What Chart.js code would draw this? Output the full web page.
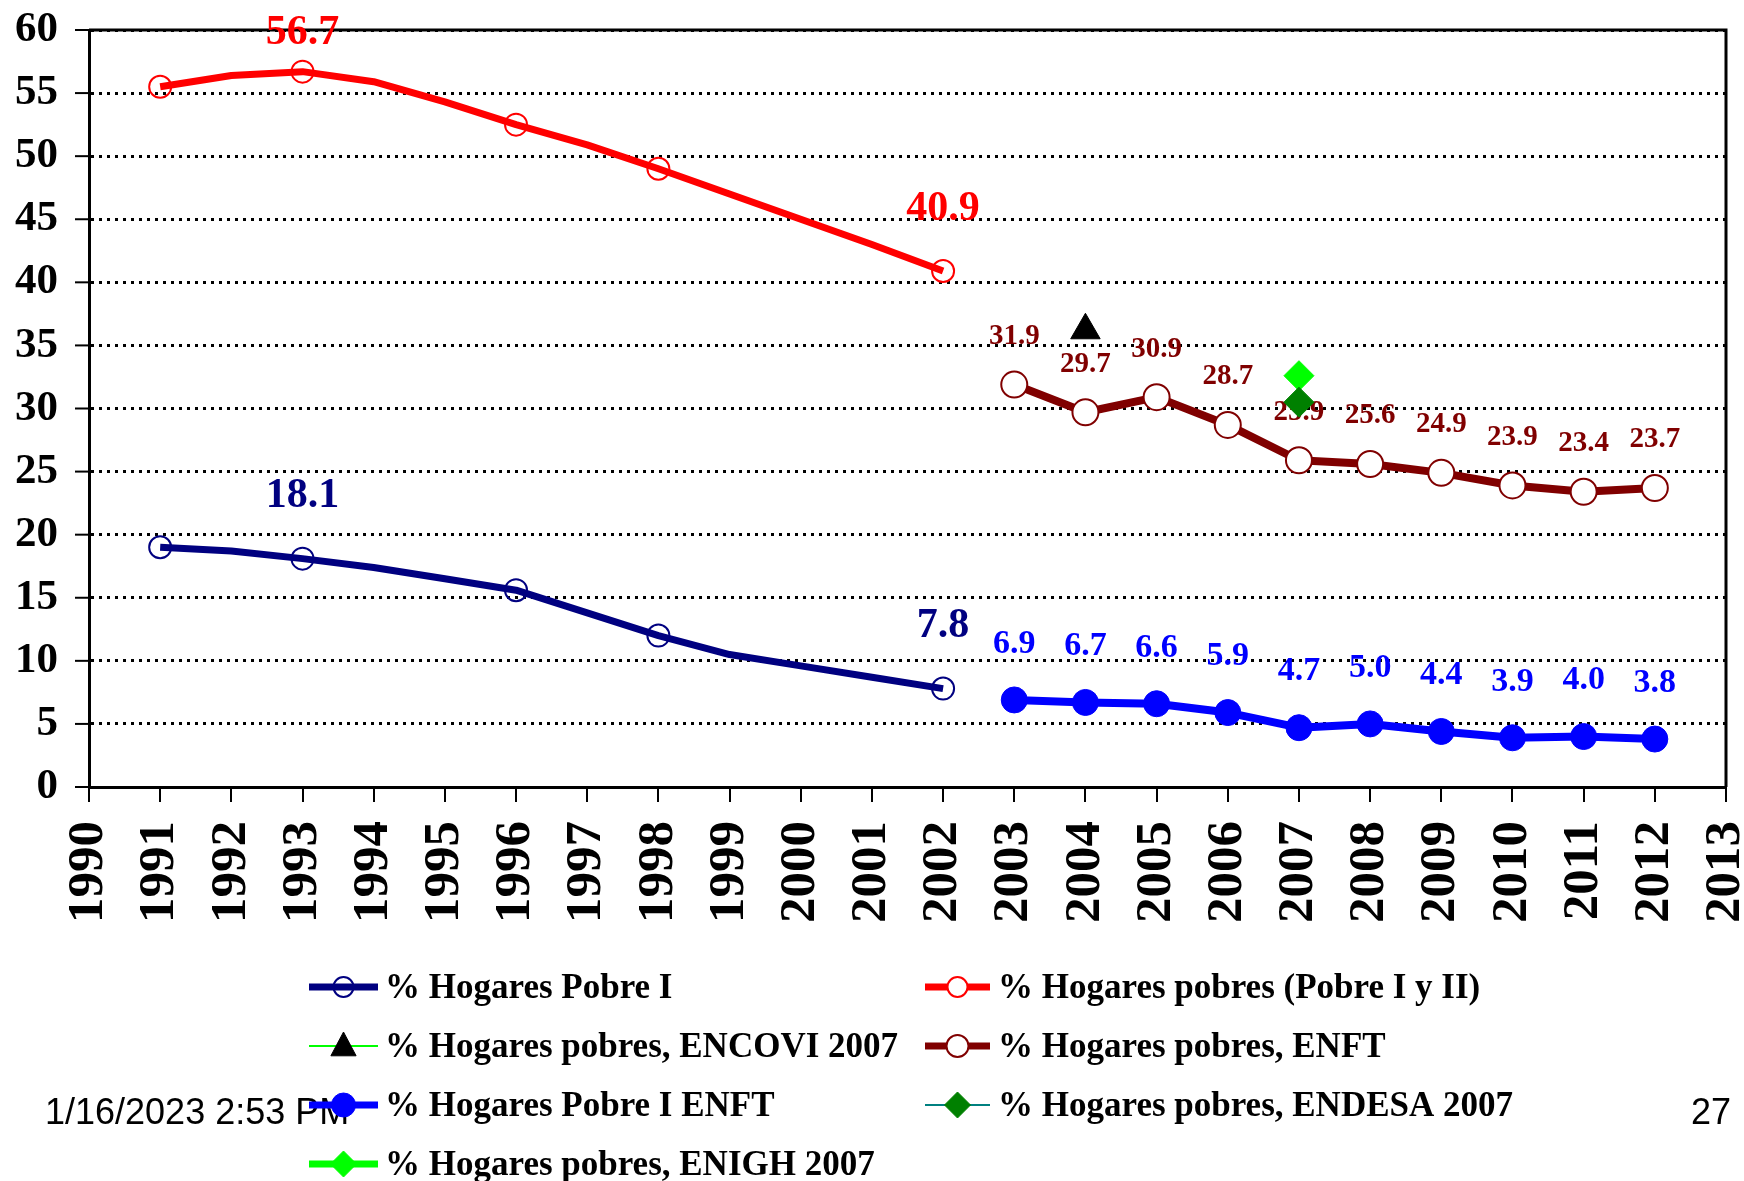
<!DOCTYPE html>
<html>
<head>
<meta charset="utf-8">
<script src="https://cdn.jsdelivr.net/npm/chart.js@4.4.1/dist/chart.umd.min.js"></script>
<style>
  html, body { margin: 0; padding: 0; background: #fff; }
  #wrap { width: 1744px; height: 1181px; }
</style>
</head>
<body>
<div id="wrap"><canvas id="chart" width="1744" height="1181"></canvas></div>
<script>
// --- data ---
const yearsEarly = [1991, 1992, 1993, 1994, 1995, 1996, 1997, 1998, 1999, 2000, 2001, 2002];
const pobreIyII   = [55.5, 56.4, 56.7, 55.9, 54.3, 52.5, 50.9, 49.0, 47.0, 45.0, 43.0, 40.9];
const pobreI      = [19.0, 18.7, 18.1, 17.4, 16.5, 15.6, 13.8, 12.0, 10.5, 9.6, 8.7, 7.8];
const markerYearsEarly = [1991, 1993, 1996, 1998, 2002];
const labelYearsEarly = [1993, 2002];

const yearsEnft  = [2003, 2004, 2005, 2006, 2007, 2008, 2009, 2010, 2011, 2012];
const enft       = [31.9, 29.7, 30.9, 28.7, 25.9, 25.6, 24.9, 23.9, 23.4, 23.7];
const pobreIEnft = [6.9, 6.7, 6.6, 5.9, 4.7, 5.0, 4.4, 3.9, 4.0, 3.8];

const yearsEncovi = [2004];
const encovi      = [36.2];
const yearsEndesa = [2007];
const endesa      = [30.5];
const yearsEnigh  = [2007];
const enigh       = [32.6];

const yTicks = [0, 5, 10, 15, 20, 25, 30, 35, 40, 45, 50, 55, 60];
const xMin = 1990, xMax = 2013;

const SERIF = "'Liberation Serif', 'Times New Roman', serif";

function pts(xs, ys) {
    return xs.map((x, i) => ({ x: x, y: ys[i] }));
}

// --- labels above points ---
const valueLabels = {
    id: 'valueLabels',
    beforeDatasetsDraw(chart) {
        const ctx = chart.ctx;
        chart.data.datasets.forEach((ds, i) => {
            const vl = ds.valueLabel;
            if (!vl) return;
            const meta = chart.getDatasetMeta(i);
            ctx.save();
            ctx.font = 'bold ' + vl.size + 'px ' + SERIF;
            ctx.fillStyle = vl.color;
            ctx.textAlign = 'center';
            ctx.textBaseline = 'middle';
            ds.data.forEach((p, j) => {
                if (vl.years && !vl.years.includes(p.x)) return;
                const el = meta.data[j];
                const off = (vl.offsetAt && vl.offsetAt[p.x]) || vl.offset;
                ctx.fillText(p.y.toFixed(1), el.x, el.y - off);
            });
            ctx.restore();
        });
    }
};

// --- frame, y tick marks ---
const frame = {
    id: 'frame',
    beforeDatasetsDraw(chart) {
        const { ctx, chartArea: a } = chart;
        const ys = chart.scales.y;
        ctx.save();
        ctx.strokeStyle = '#000';
        ctx.lineWidth = 3;
        ctx.beginPath();
        ctx.moveTo(a.left, a.top);
        ctx.lineTo(a.right, a.top);
        ctx.lineTo(a.right, a.bottom);
        ctx.stroke();
        ctx.lineWidth = 2;
        ys.ticks.forEach(t => {
            const py = ys.getPixelForValue(t.value);
            ctx.beginPath();
            ctx.moveTo(a.left - 14, py);
            ctx.lineTo(a.left, py);
            ctx.stroke();
        });
        ctx.restore();
    }
};

function drawMarker(ctx, style, r, x, y, fill, stroke, bw) {
    ctx.save();
    ctx.beginPath();
    if (style === 'circle') {
        ctx.arc(x, y, r, 0, Math.PI * 2);
    } else if (style === 'triangle') {
        ctx.moveTo(x, y - r);
        ctx.lineTo(x + r * 0.9, y + r * 0.7);
        ctx.lineTo(x - r * 0.9, y + r * 0.7);
        ctx.closePath();
    } else if (style === 'rectRot') {
        ctx.moveTo(x, y - r);
        ctx.lineTo(x + r, y);
        ctx.lineTo(x, y + r);
        ctx.lineTo(x - r, y);
        ctx.closePath();
    }
    ctx.fillStyle = fill;
    ctx.fill();
    if (bw > 0) {
        ctx.lineWidth = bw;
        ctx.strokeStyle = stroke;
        ctx.stroke();
    }
    ctx.restore();
}

// --- legend in two columns + footer texts ---
const legendBox = {
    id: 'legendBox',
    afterDraw(chart) {
        const ctx = chart.ctx;
        ctx.save();
        ctx.fillStyle = '#000';
        ctx.font = '36px "Liberation Sans", Arial, sans-serif';
        ctx.textBaseline = 'alphabetic';
        ctx.textAlign = 'left';
        ctx.fillText('1/16/2023 2:53 PM', 45, 1124);
        ctx.textAlign = 'right';
        ctx.fillText('27', 1731, 1124);
        ctx.restore();

        const cols = [{ x0: 309, x1: 378, tx: 385 }, { x0: 925, x1: 990, tx: 998 }];
        chart.data.datasets.forEach((ds, i) => {
            const c = cols[i % 2];
            const y = 987 + Math.floor(i / 2) * 59;
            const lg = ds.legendStyle;
            ctx.save();
            ctx.strokeStyle = lg.line;
            ctx.lineWidth = lg.width;
            ctx.beginPath();
            ctx.moveTo(c.x0, y);
            ctx.lineTo(c.x1, y);
            ctx.stroke();
            ctx.restore();
            drawMarker(ctx, ds.pointStyle, lg.r, (c.x0 + c.x1) / 2, y,
                lg.fill, ds.pointBorderColor, ds.pointBorderWidth);
            ctx.save();
            ctx.fillStyle = '#000';
            ctx.font = 'bold 35px ' + SERIF;
            ctx.textBaseline = 'middle';
            ctx.fillText(ds.label, c.tx, y + 2);
            ctx.restore();
        });
    }
};

const earlyRadius = ctx => (ctx.raw && markerYearsEarly.includes(ctx.raw.x)) ? 11 : 0;

new Chart(document.getElementById('chart'), {
    type: 'line',
    data: {
        datasets: [
            {
                label: '% Hogares Pobre I',
                data: pts(yearsEarly, pobreI),
                borderColor: '#000080', borderWidth: 7,
                pointStyle: 'circle', pointRadius: earlyRadius,
                pointBackgroundColor: 'rgba(0,0,0,0)', pointBorderColor: '#000080', pointBorderWidth: 2,
                valueLabel: { years: labelYearsEarly, size: 42, color: '#000080', offset: 62 },
                legendStyle: { line: '#000080', width: 7, r: 10, fill: 'rgba(0,0,0,0)' }
            },
            {
                label: '% Hogares pobres (Pobre I y II)',
                data: pts(yearsEarly, pobreIyII),
                borderColor: '#ff0000', borderWidth: 7,
                pointStyle: 'circle', pointRadius: earlyRadius,
                pointBackgroundColor: 'rgba(0,0,0,0)', pointBorderColor: '#ff0000', pointBorderWidth: 2,
                valueLabel: { years: labelYearsEarly, size: 42, color: '#ff0000', offset: 62, offsetAt: { 1993: 38 } },
                legendStyle: { line: '#ff0000', width: 7, r: 10, fill: '#ffffff' }
            },
            {
                label: '% Hogares pobres, ENCOVI 2007',
                data: pts(yearsEncovi, encovi),
                borderColor: '#00ff00', borderWidth: 2, showLine: false,
                pointStyle: 'triangle', pointRadius: 17,
                pointBackgroundColor: '#000000', pointBorderColor: '#000000', pointBorderWidth: 1,
                legendStyle: { line: '#00ff00', width: 2, r: 14, fill: '#000000' }
            },
            {
                label: '% Hogares pobres, ENFT',
                data: pts(yearsEnft, enft),
                borderColor: '#800000', borderWidth: 8,
                pointStyle: 'circle', pointRadius: 13,
                pointBackgroundColor: '#ffffff', pointBorderColor: '#800000', pointBorderWidth: 2,
                valueLabel: { size: 29, color: '#800000', offset: 48 },
                legendStyle: { line: '#800000', width: 7, r: 11, fill: '#ffffff' }
            },
            {
                label: '% Hogares Pobre I ENFT',
                data: pts(yearsEnft, pobreIEnft),
                borderColor: '#0000ff', borderWidth: 8,
                pointStyle: 'circle', pointRadius: 13,
                pointBackgroundColor: '#0000ff', pointBorderColor: '#0000ff', pointBorderWidth: 1,
                valueLabel: { size: 34, color: '#0000ff', offset: 56 },
                legendStyle: { line: '#0000ff', width: 7, r: 12, fill: '#0000ff' }
            },
            {
                label: '% Hogares pobres, ENDESA 2007',
                data: pts(yearsEndesa, endesa),
                borderColor: '#008080', borderWidth: 2, showLine: false,
                pointStyle: 'rectRot', pointRadius: 15,
                pointBackgroundColor: '#008000', pointBorderColor: '#008000', pointBorderWidth: 1,
                legendStyle: { line: '#008080', width: 2, r: 13, fill: '#008000' }
            },
            {
                label: '% Hogares pobres, ENIGH 2007',
                data: pts(yearsEnigh, enigh),
                borderColor: '#00ff00', borderWidth: 6, showLine: false,
                pointStyle: 'rectRot', pointRadius: 15,
                pointBackgroundColor: '#00ff00', pointBorderColor: '#00ff00', pointBorderWidth: 1,
                legendStyle: { line: '#00ff00', width: 7, r: 13, fill: '#00ff00' }
            }
        ]
    },
    options: {
        responsive: false,
        animation: false,
        devicePixelRatio: 1,
        layout: { padding: { top: 30, right: 18, left: 0, bottom: 259 } },
        elements: { line: { tension: 0, borderJoinStyle: 'round', borderCapStyle: 'butt' } },
        plugins: { legend: { display: false }, tooltip: { enabled: false } },
        scales: {
            x: {
                type: 'linear', min: xMin, max: xMax,
                afterFit(s) { s.height = 135; s.paddingLeft = 0; s.paddingRight = 0; },
                grid: { drawOnChartArea: false, drawTicks: true, tickLength: 15, color: '#000', lineWidth: 2 },
                border: { color: '#000', width: 3 },
                ticks: {
                    stepSize: 1, autoSkip: false, minRotation: 90, maxRotation: 90, padding: 19,
                    color: '#000', font: { family: SERIF, size: 51, weight: 'bold' },
                    callback: v => String(v)
                }
            },
            y: {
                min: 0, max: 60,
                afterFit(s) { s.width = 89; s.paddingTop = 0; s.paddingBottom = 0; },
                afterBuildTicks(s) { s.ticks = yTicks.map(v => ({ value: v })); },
                grid: { drawTicks: false, color: '#000', lineWidth: 3 },
                border: { color: '#000', width: 3, dash: [3, 5] },
                ticks: {
                    padding: 31, color: '#000',
                    font: { family: SERIF, size: 43, weight: 'bold' }
                }
            }
        }
    },
    plugins: [frame, valueLabels, legendBox]
});
</script>
</body>
</html>
